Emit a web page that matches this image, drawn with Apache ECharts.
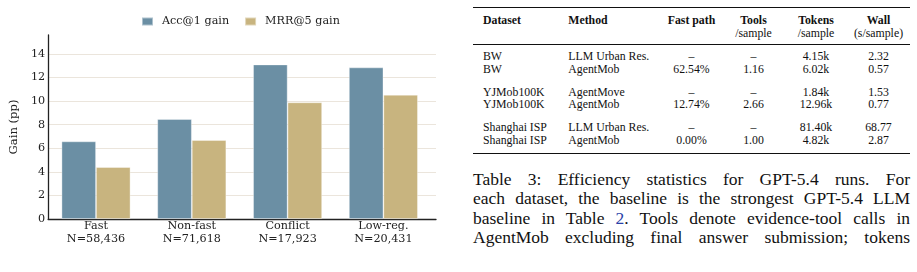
<!DOCTYPE html>
<html>
<head>
<meta charset="utf-8">
<script src="https://cdn.jsdelivr.net/npm/echarts@6/dist/echarts.min.js"></script>
<style>
  html, body { margin: 0; padding: 0; background: #fff; }
  body { width: 917px; height: 272px; position: relative; overflow: hidden; }
  #chart { position: absolute; left: 0; top: 0; width: 440px; height: 272px; }
  #table { position: absolute; left: 473px; top: 0; width: 437px; height: 160px;
           font-family: "Liberation Serif", serif; font-size: 11.8px; color: #111; }
  .rule { position: absolute; left: 0; width: 437px; background: #111; }
  .cell { position: absolute; white-space: nowrap; line-height: 13px; }
  #caption { position: absolute; left: 473px; top: 170px; width: 437px;
             font-family: "Liberation Serif", serif; font-size: 17.5px; line-height: 19.3px; color: #111; }
  #caption div { text-align: justify; text-align-last: justify; white-space: nowrap; }
  .ref { color: #2a3fa8; }
</style>
</head>
<body>
<div id="chart"></div>
<div id="table"></div>
<div id="caption">
  <div>Table 3: Efficiency statistics for GPT-5.4 runs. For</div>
  <div>each dataset, the baseline is the strongest GPT-5.4 LLM</div>
  <div>baseline in Table <span class="ref">2</span>. Tools denote evidence-tool calls in</div>
  <div>AgentMob excluding final answer submission; tokens</div>
</div>
<script>
// chart data
const categories = ['Fast', 'Non-fast', 'Conflict', 'Low-reg.'];
const counts = ['N=58,436', 'N=71,618', 'N=17,923', 'N=20,431'];
const accGain = [6.58, 8.47, 13.1, 12.85];
const mrrGain = [4.4, 6.69, 9.89, 10.53];

// table data
const headers = [['Dataset'], ['Method'], ['Fast path'], ['Tools', '/sample'], ['Tokens', '/sample'], ['Wall', '(s/sample)']];
const datasets = ['BW', 'BW', 'YJMob100K', 'YJMob100K', 'Shanghai ISP', 'Shanghai ISP'];
const methods = ['LLM Urban Res.', 'AgentMob', 'AgentMove', 'AgentMob', 'LLM Urban Res.', 'AgentMob'];
const fastPath = ['–', '62.54%', '–', '12.74%', '–', '0.00%'];
const tools = ['–', '1.16', '–', '2.66', '–', '1.00'];
const tokens = ['4.15k', '6.02k', '1.84k', '12.96k', '81.40k', '4.82k'];
const wall = ['2.32', '0.57', '1.53', '0.77', '68.77', '2.87'];

const serif = '"DejaVu Serif", serif';
const ink = '#222';
const fs = 11.2;

const chart = echarts.init(document.getElementById('chart'), null, { renderer: 'canvas' });
chart.setOption({
  backgroundColor: '#fff',
  animation: false,
  legend: {
    top: 16,
    left: 141,
    padding: 0,
    itemWidth: 11,
    itemHeight: 8,
    itemGap: 15,
    icon: 'rect',
    textStyle: { fontFamily: serif, fontSize: fs, color: ink, padding: [0, 0, 0, 4] },
    data: ['Acc@1 gain', 'MRR@5 gain']
  },
  grid: [
    // frame grid: spans the full matplotlib axes
    { left: 43.3, right: 4, top: 35, height: 184 },
    // bar grid: inset so the categories sit at x = 0..3 on a -0.55..3.55 range
    { left: 48.1, width: 383.2, top: 35, height: 184 }
  ],
  xAxis: [
    {
      gridIndex: 0, type: 'value', min: -0.55, max: 3.55,
      axisLine: { show: true, lineStyle: { color: ink, width: 1.3 } },
      axisTick: { show: false }, axisLabel: { show: false }, splitLine: { show: false }
    },
    {
      gridIndex: 1, type: 'category', data: categories,
      axisLine: { show: false }, axisTick: { show: false },
      axisLabel: {
        margin: 1,
        fontFamily: serif, fontSize: fs, color: ink, lineHeight: 12.7,
        formatter: (v, i) => v + '\n' + counts[i]
      }
    }
  ],
  yAxis: [
    {
      gridIndex: 0, type: 'value', min: 0, max: 15.6, interval: 2,
      name: 'Gain (pp)', nameLocation: 'middle', nameGap: 27,
      nameTextStyle: { fontFamily: serif, fontSize: 11.6, color: ink },
      axisLine: { show: true, onZero: false, lineStyle: { color: ink, width: 1.3 } },
      axisTick: { show: false },
      axisLabel: { margin: 3, fontFamily: serif, fontSize: fs, color: ink, showMaxLabel: false },
      splitLine: { show: true, showMaxLine: false, lineStyle: { color: '#ebe5dc', width: 1 } }
    },
    {
      gridIndex: 1, type: 'value', min: 0, max: 15.6, show: false,
      splitLine: { show: false }
    }
  ],
  series: [
    {
      name: 'Acc@1 gain', type: 'bar', xAxisIndex: 1, yAxisIndex: 1,
      data: accGain, barWidth: '36%', barGap: '0%',
      itemStyle: { color: '#6b8fa4', borderColor: 'rgba(255,255,255,0.45)', borderWidth: 0.8 }
    },
    {
      name: 'MRR@5 gain', type: 'bar', xAxisIndex: 1, yAxisIndex: 1,
      data: mrrGain, barWidth: '36%', barGap: '0%',
      itemStyle: { color: '#c8b47f', borderColor: 'rgba(255,255,255,0.45)', borderWidth: 0.8 }
    }
  ]
});

// table built from the arrays above
const table = document.getElementById('table');
// column anchors: [x, align]
const cols = [[10, 'left'], [95.3, 'left'], [218.5, 'center'], [280.5, 'center'], [343, 'center'], [405.5, 'center']];
function addRule(top, h) {
  const r = document.createElement('div');
  r.className = 'rule';
  r.style.top = top + 'px';
  r.style.height = h + 'px';
  table.appendChild(r);
}
function addCell(text, col, centerY, bold) {
  const c = document.createElement('div');
  c.className = 'cell';
  c.textContent = text;
  if (bold) c.style.fontWeight = 'bold';
  c.style.top = (centerY - 6.5) + 'px';
  const [x, align] = cols[col];
  if (align === 'left') {
    c.style.left = x + 'px';
  } else {
    c.style.left = (x - 50) + 'px';
    c.style.width = '100px';
    c.style.textAlign = 'center';
  }
  table.appendChild(c);
}
addRule(6.5, 1.5);
addRule(43.5, 1);
addRule(152.5, 1.5);
headers.forEach((h, i) => {
  h.forEach((line, j) => addCell(line, i, 20 + j * 13, j === 0));
});
const columns = [datasets, methods, fastPath, tools, tokens, wall];
datasets.forEach((_, r) => {
  const group = Math.floor(r / 2);
  const y = 56.7 + group * 35.5 + (r % 2) * 12.7;
  columns.forEach((col, c) => addCell(col[r], c, y, false));
});
</script>
</body>
</html>
